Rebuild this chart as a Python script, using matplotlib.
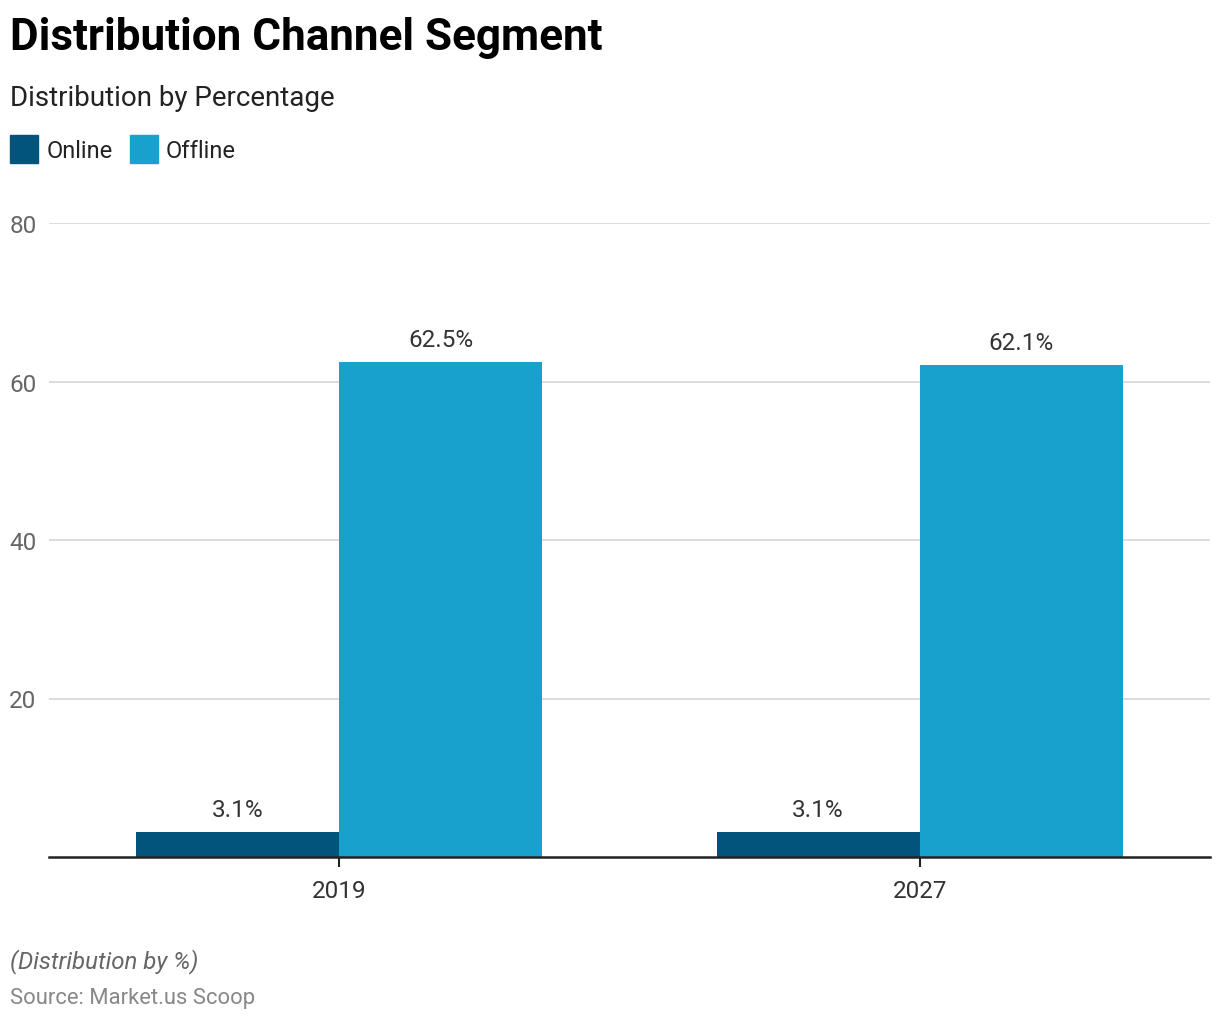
import matplotlib
matplotlib.use("Agg")
import matplotlib.pyplot as plt
import numpy as np
from matplotlib.patches import Rectangle

categories = ["2019", "2027"]
series_names = ["Online", "Offline"]
online = [3.1, 3.1]
offline = [62.5, 62.1]
yticks = [20, 40, 60, 80]

colors = ["#02547C", "#19A1CE"]

plt.rcParams['font.family'] = ['Roboto', 'DejaVu Sans']

W, H = 1220, 1020
fig = plt.figure(figsize=(W / 100, H / 100), dpi=100)

def fx(px):
    return px / W

def fy(py):
    return 1 - py / H

ax = fig.add_axes([fx(49), fy(858), fx(1210) - fx(49), fy(224) - fy(858)])

x = np.arange(len(categories))
bw = 0.35
b1 = ax.bar(x - bw / 2, online, bw, color=colors[0], zorder=3)
b2 = ax.bar(x + bw / 2, offline, bw, color=colors[1], zorder=3)

for bars, vals in [(b1, online), (b2, offline)]:
    for b, v in zip(bars, vals):
        ax.annotate(f"{v}%", (b.get_x() + b.get_width() / 2, v),
                    xytext=(0, 8), textcoords="offset points",
                    ha="center", va="bottom", fontsize=17.5, color="#333333")

ax.set_xlim(-0.5, 1.5)
ax.set_ylim(0, 80)
ax.set_yticks(yticks)
ax.set_yticklabels([str(t) for t in yticks])
ax.set_xticks(x)
ax.set_xticklabels(categories)
ax.yaxis.grid(True, color="#d9d9d9", linewidth=1.3, zorder=0)
ax.tick_params(axis="y", length=0, labelsize=17.5, labelcolor="#666666", pad=9)
ax.tick_params(axis="x", length=7, width=1.5, color="#222222", labelsize=17.5,
               labelcolor="#333333", pad=9)
for s in ["top", "right", "left"]:
    ax.spines[s].set_visible(False)
ax.spines["bottom"].set_color("#222222")
ax.spines["bottom"].set_linewidth(1.8)
ax.spines["bottom"].set_zorder(4)

fig.text(fx(10), fy(38), "Distribution Channel Segment", fontsize=31.7,
         fontweight="bold", color="#000000", va="center", ha="left")
fig.text(fx(10), fy(99), "Distribution by Percentage", fontsize=20,
         color="#222222", va="center", ha="left")

legend_items = [(series_names[0], colors[0], 10, 47), (series_names[1], colors[1], 130, 166)]
for name, c, sx, tx in legend_items:
    fig.patches.append(Rectangle((fx(sx), fy(164)), fx(28), fy(136) - fy(164),
                                 transform=fig.transFigure, color=c))
    fig.text(fx(tx), fy(152), name, fontsize=17, color="#222222",
             va="center", ha="left")

fig.text(fx(10), fy(962), "(Distribution by %)", fontsize=17.3, style="italic",
         color="#666666", va="center", ha="left")
fig.text(fx(10), fy(999), "Source: Market.us Scoop", fontsize=15.8,
         color="#888888", va="center", ha="left")

fig.savefig("out.png", dpi=100, facecolor="white")
